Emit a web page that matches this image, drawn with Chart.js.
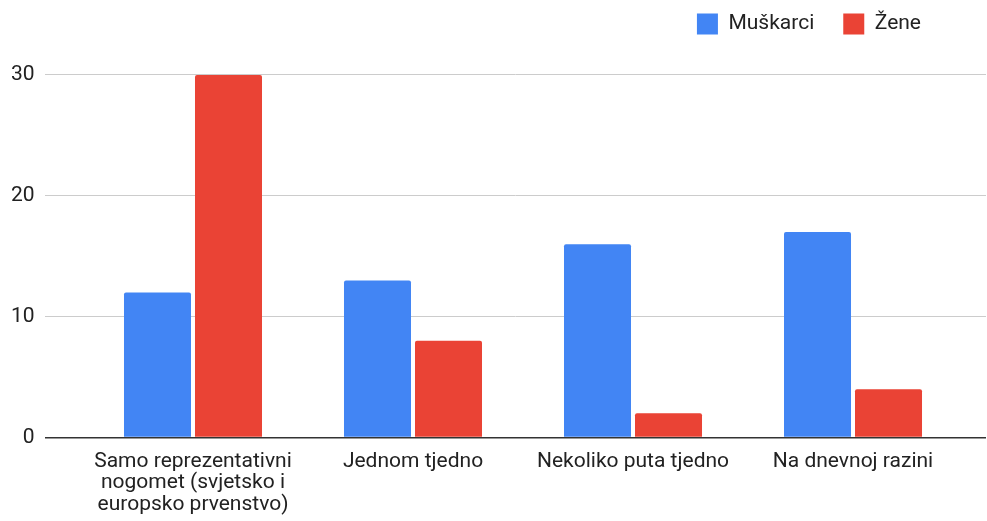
<!DOCTYPE html>
<html>
<head>
<meta charset="utf-8">
<script src="https://cdn.jsdelivr.net/npm/chart.js@4.4.1/dist/chart.umd.min.js"></script>
<style>
  html, body { margin: 0; padding: 0; background: #ffffff; }
  #wrap { position: relative; width: 987px; height: 521px; }
</style>
</head>
<body>
<div id="wrap"><canvas id="c" width="987" height="521"></canvas></div>
<script>
// ---- data ----
const categories = [
  ['Samo reprezentativni', 'nogomet (svjetsko i', 'europsko prvenstvo)'],
  'Jednom tjedno',
  'Nekoliko puta tjedno',
  'Na dnevnoj razini'
];
const seriesNames = ['Muškarci', 'Žene'];
const muskarci = [12, 13, 16, 17];
const zene = [30, 8, 2, 4];
const yTicks = [0, 10, 20, 30];

// ---- styles ----
const FONT = 'Roboto, "Noto Sans", Arial, sans-serif';
const BLUE = '#4285F4';
const RED = '#EA4335';

const toPoints = arr => arr.map((v, i) => ({ x: i, y: v }));

// move the legend block a little left of the plot's right edge
const legendShift = {
  id: 'legendShift',
  afterLayout(chart) {
    const l = chart.legend;
    if (l) { l.left -= 36; l.right -= 36; }
  }
};

new Chart(document.getElementById('c'), {
  type: 'bar',
  data: {
    datasets: [
      { label: seriesNames[0], data: toPoints(muskarci), backgroundColor: BLUE, borderRadius: 2,
        categoryPercentage: 0.6455, barPercentage: 0.9437 },
      { label: seriesNames[1], data: toPoints(zene), backgroundColor: RED, borderRadius: 2,
        categoryPercentage: 0.6455, barPercentage: 0.9437 }
    ]
  },
  plugins: [legendShift],
  options: {
    responsive: false,
    animation: false,
    devicePixelRatio: 1,
    layout: { padding: { top: -15.5, right: 1, bottom: 0, left: 0 } },
    plugins: {
      tooltip: { enabled: false },
      legend: {
        position: 'top',
        align: 'end',
        fullSize: false,
        labels: {
          boxWidth: 21,
          boxHeight: 21,
          padding: 29,
          color: '#222222',
          font: { family: FONT, size: 21 }
        }
      }
    },
    scales: {
      x: {
        type: 'linear',
        offset: false,
        min: -0.6727,
        max: 3.6045,
        afterBuildTicks: s => { s.ticks = categories.map((c, i) => ({ value: i })); },
        afterFit: s => { s.height = 83.5; s.paddingLeft = 0; s.paddingRight = 0; },
        grid: { display: false, drawTicks: false, offset: false },
        border: { display: false },
        ticks: {
          autoSkip: false,
          maxRotation: 0,
          minRotation: 0,
          padding: 13,
          color: '#222222',
          font: { family: FONT, size: 21, lineHeight: 1.035 },
          callback: v => categories[v]
        }
      },
      y: {
        min: 0,
        max: 32.52,
        afterBuildTicks: s => { s.ticks = yTicks.map(v => ({ value: v })); },
        afterFit: s => { s.width = 45; },
        grid: {
          drawTicks: false,
          color: ctx => (ctx.tick && ctx.tick.value === 0) ? '#333333' : '#cccccc',
          lineWidth: ctx => (ctx.tick && ctx.tick.value === 0) ? 1.5 : 1
        },
        border: { display: false },
        ticks: {
          padding: 10.5,
          color: '#222222',
          font: { family: FONT, size: 21 }
        }
      }
    }
  }
});
</script>
</body>
</html>
